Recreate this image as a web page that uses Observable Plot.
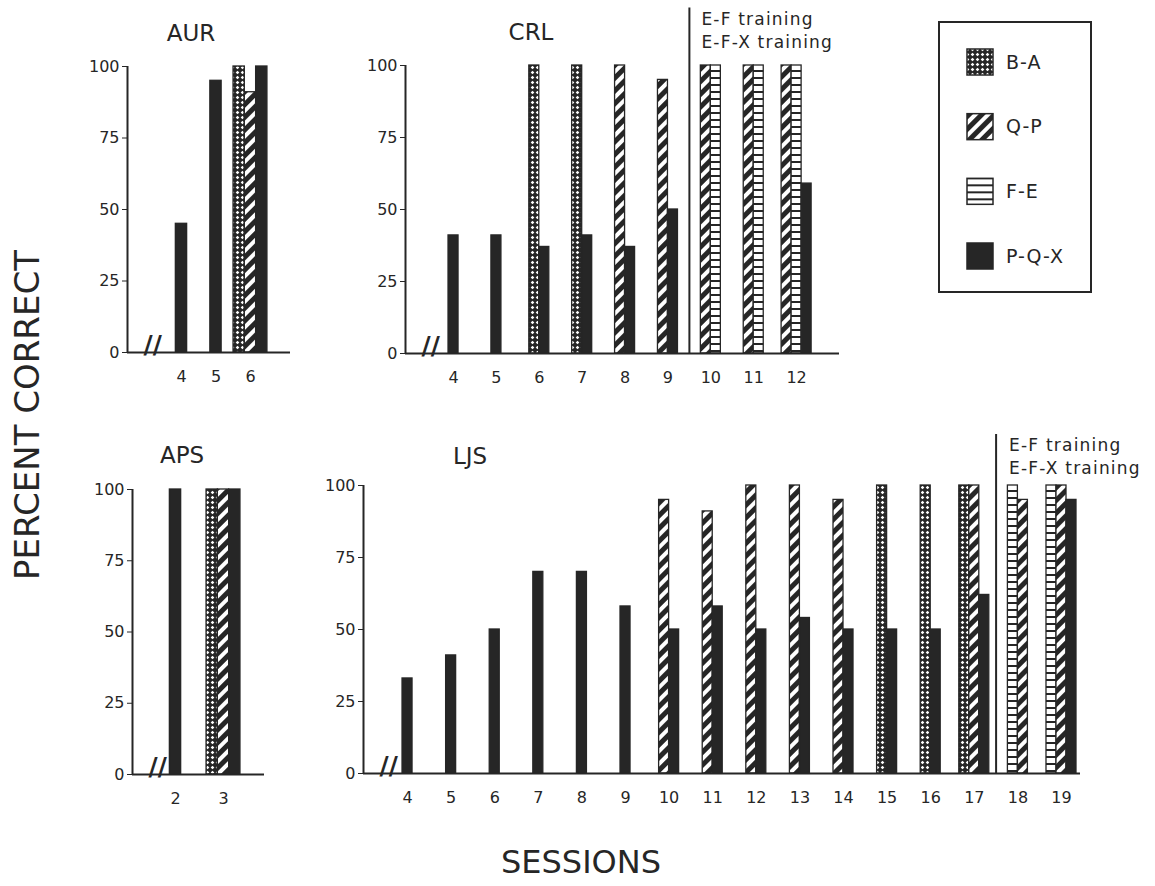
<!DOCTYPE html>
<html>
<head>
<meta charset="utf-8">
<script src="https://cdn.jsdelivr.net/npm/d3@7"></script>
<script src="https://cdn.jsdelivr.net/npm/@observablehq/plot@0.6"></script>
<style>
  html, body { margin: 0; padding: 0; background: #fff; }
  #root { position: relative; width: 1155px; height: 886px; overflow: hidden; background: #fff; font-family: "DejaVu Sans", sans-serif; color: #262626; }
  .abs { position: absolute; }
  .title { position: absolute; transform: translate(-50%, -50%); font-size: 23px; white-space: nowrap; }
  .note text { letter-spacing: 1.2px; }
</style>
</head>
<body>
<div id="root">
  <svg width="0" height="0" style="position:absolute;left:0;top:0">
    <defs>
      <pattern id="pBA" width="5" height="5" patternUnits="userSpaceOnUse">
        <rect width="5" height="5" fill="#262626"/>
        <polygon points="2.5,0.7 4.3,2.5 2.5,4.3 0.7,2.5" fill="#fff"/>
      </pattern>
      <pattern id="pQP" width="9" height="9" patternUnits="userSpaceOnUse" patternTransform="rotate(45)">
        <rect width="9" height="9" fill="#262626"/>
        <rect x="0" y="0" width="4" height="9" fill="#fff"/>
      </pattern>
      <pattern id="pFE" width="10" height="7" patternUnits="userSpaceOnUse">
        <rect width="10" height="7" fill="#262626"/>
        <rect x="0" y="2" width="10" height="5" fill="#fff"/>
      </pattern>
    </defs>
  </svg>
</div>
<script>
const INK = "#262626";

// ---------- data ----------
const seriesNames = ["B-A", "Q-P", "F-E", "P-Q-X"];
const seriesFills = ["url(#pBA)", "url(#pQP)", "url(#pFE)", INK];
const yTicks = [0, 25, 50, 75, 100];
const trainingLabels = ["E-F training", "E-F-X training"];

const aurSessions = [4, 5, 6, 6, 6];
const aurSeries   = ["P-Q-X", "P-Q-X", "B-A", "Q-P", "P-Q-X"];
const aurValues   = [45, 95, 100, 91, 100];

const crlSessions = [4, 5, 6, 6, 7, 7, 8, 8, 9, 9, 10, 10, 11, 11, 12, 12, 12];
const crlSeries   = ["P-Q-X", "P-Q-X", "B-A", "P-Q-X", "B-A", "P-Q-X", "Q-P", "P-Q-X", "Q-P", "P-Q-X",
                     "Q-P", "F-E", "Q-P", "F-E", "Q-P", "F-E", "P-Q-X"];
const crlValues   = [41, 41, 100, 37, 100, 41, 100, 37, 95, 50, 100, 100, 100, 100, 100, 100, 59];
const crlTrainingStart = 9.5;

const apsSessions = [2, 3, 3, 3];
const apsSeries   = ["P-Q-X", "B-A", "Q-P", "P-Q-X"];
const apsValues   = [100, 100, 100, 100];

const ljsSessions = [4, 5, 6, 7, 8, 9, 10, 10, 11, 11, 12, 12, 13, 13, 14, 14, 15, 15, 16, 16, 17, 17, 17, 18, 18, 19, 19, 19];
const ljsSeries   = ["P-Q-X", "P-Q-X", "P-Q-X", "P-Q-X", "P-Q-X", "P-Q-X",
                     "Q-P", "P-Q-X", "Q-P", "P-Q-X", "Q-P", "P-Q-X", "Q-P", "P-Q-X", "Q-P", "P-Q-X",
                     "B-A", "P-Q-X", "B-A", "P-Q-X", "B-A", "Q-P", "P-Q-X",
                     "F-E", "Q-P", "F-E", "Q-P", "P-Q-X"];
const ljsValues   = [33, 41, 50, 70, 70, 58, 95, 50, 91, 58, 100, 50, 100, 54, 95, 50,
                     100, 50, 100, 50, 100, 100, 62, 100, 95, 100, 100, 95];
const ljsTrainingStart = 17.5;

// ---------- layout ----------
const root = document.getElementById("root");

function panel(cfg, sessions, series, values) {
  const rows = sessions.map((s, i) => ({session: s, series: series[i], value: values[i]}));
  const groups = d3.group(rows, d => d.session);
  const [lo, hi] = cfg.xDomain;
  const pxPerUnit = (cfg.width - cfg.marginLeft - cfg.marginRight) / (hi - lo);
  const bw = cfg.barPx / pxPerUnit;
  for (const [s, g] of groups) {
    g.forEach((d, k) => { d.x1 = s + (k - g.length / 2) * bw; d.x2 = d.x1 + bw; });
  }
  const ticks = Array.from(groups.keys());
  const marks = [
    Plot.rect(rows, {x1: "x1", x2: "x2", y1: d => 0, y2: "value", fill: "series", stroke: INK, strokeWidth: 1.3}),
    Plot.ruleY([0], {stroke: INK, strokeWidth: 2}),
    Plot.ruleX([lo], {y1: d => 0, y2: d => 100, stroke: INK, strokeWidth: 2}),
    Plot.axisY({ticks: yTicks, tickSize: 5, tickPadding: 3, fontSize: 16, label: null}),
    Plot.axisX({ticks, tickSize: 0, tickPadding: 18, fontSize: 16, label: null, tickFormat: d => String(d)}),
    Plot.text(["//"], {frameAnchor: "bottom-left", dx: 16, fontSize: 25, fontWeight: "bold", fill: INK})
  ];
  if (cfg.note) {
    const n = cfg.note;
    marks.push(
      Plot.ruleX([n.x], {y1: d => 0, y2: d => n.top, stroke: INK, strokeWidth: 2}),
      Plot.text([trainingLabels[0]], {x: d => n.x, frameAnchor: "top", dx: n.dx, dy: n.dy1, textAnchor: "start", lineAnchor: "bottom", fontSize: 17, fill: INK, className: "note"}),
      Plot.text([trainingLabels[1]], {x: d => n.x, frameAnchor: "top", dx: n.dx, dy: n.dy2, textAnchor: "start", lineAnchor: "bottom", fontSize: 17, fill: INK, className: "note"})
    );
  }
  const svg = Plot.plot({
    width: cfg.width, height: cfg.height,
    marginLeft: cfg.marginLeft, marginRight: cfg.marginRight,
    marginTop: cfg.marginTop, marginBottom: cfg.marginBottom,
    x: {type: "linear", domain: cfg.xDomain},
    y: {domain: [0, 100]},
    color: {domain: seriesNames, range: seriesFills},
    style: {fontFamily: "DejaVu Sans", fontSize: "16px", color: INK, background: "transparent", overflow: "visible"},
    marks
  });
  svg.style.position = "absolute";
  svg.style.left = cfg.left + "px";
  svg.style.top = cfg.top + "px";
  root.appendChild(svg);

  const t = document.createElement("div");
  t.className = "title";
  t.textContent = cfg.title;
  t.style.left = cfg.titleX + "px";
  t.style.top = cfg.titleY + "px";
  root.appendChild(t);
}

panel({title: "AUR", titleX: 191, titleY: 33, left: 60, top: 0, width: 240, height: 400,
       marginLeft: 67, marginRight: 10, marginTop: 66, marginBottom: 48,
       xDomain: [2.435, 7.16], barPx: 11.3}, aurSessions, aurSeries, aurValues);

panel({title: "CRL", titleX: 531, titleY: 32, left: 340, top: 0, width: 510, height: 400,
       marginLeft: 65, marginRight: 11, marginTop: 65, marginBottom: 47,
       xDomain: [2.88, 13.0], barPx: 10,
       note: {x: crlTrainingStart, top: 120, dx: 12, dy1: -41, dy2: -18}}, crlSessions, crlSeries, crlValues);

panel({title: "APS", titleX: 182, titleY: 455, left: 60, top: 420, width: 215, height: 400,
       marginLeft: 72, marginRight: 11, marginTop: 69, marginBottom: 46,
       xDomain: [1.104, 3.854], barPx: 11.3}, apsSessions, apsSeries, apsValues);

panel({title: "LJS", titleX: 470, titleY: 456, left: 300, top: 420, width: 790, height: 400,
       marginLeft: 63, marginRight: 10, marginTop: 65, marginBottom: 47,
       xDomain: [2.99, 19.436], barPx: 10,
       note: {x: ljsTrainingStart, top: 117.7, dx: 13, dy1: -35, dy2: -12}}, ljsSessions, ljsSeries, ljsValues);

// ---------- legend ----------
{
  const leg = d3.create("svg").attr("width", 160).attr("height", 280)
    .style("position", "absolute").style("left", "935px").style("top", "18px");
  leg.append("rect").attr("x", 4).attr("y", 4).attr("width", 152).attr("height", 270)
    .attr("fill", "none").attr("stroke", INK).attr("stroke-width", 2);
  const yPos = d3.scalePoint().domain(seriesNames).range([44, 238]);
  const g = leg.selectAll("g.item").data(seriesNames).join("g").attr("class", "item")
    .attr("transform", d => `translate(0,${yPos(d)})`);
  g.append("rect").attr("x", 32).attr("y", -13).attr("width", 26).attr("height", 26)
    .attr("fill", (d, i) => seriesFills[i]).attr("stroke", INK).attr("stroke-width", 1.5);
  g.append("text").attr("x", 71).attr("y", 0).attr("dy", "0.35em")
    .attr("font-family", "DejaVu Sans").attr("font-size", 19).attr("letter-spacing", 1)
    .attr("fill", INK).text(d => d);
  root.appendChild(leg.node());
}

// ---------- axis titles ----------
{
  const yl = document.createElement("div");
  yl.className = "abs";
  yl.textContent = "PERCENT CORRECT";
  Object.assign(yl.style, {left: "27px", top: "415px", transform: "translate(-50%,-50%) rotate(-90deg)",
    fontSize: "34px", whiteSpace: "nowrap"});
  root.appendChild(yl);
  const xl = document.createElement("div");
  xl.className = "abs";
  xl.textContent = "SESSIONS";
  Object.assign(xl.style, {left: "581px", top: "862px", transform: "translate(-50%,-50%)",
    fontSize: "32px", whiteSpace: "nowrap"});
  root.appendChild(xl);
}
</script>
</body>
</html>
